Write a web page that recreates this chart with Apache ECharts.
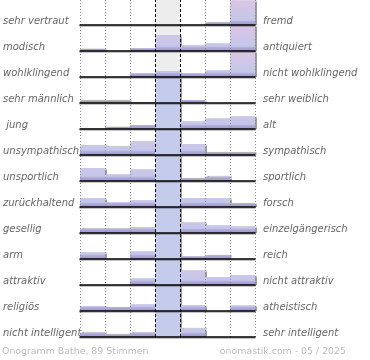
<!DOCTYPE html>
<html>
<head>
<meta charset="utf-8">
<script src="https://cdn.jsdelivr.net/npm/echarts@6/dist/echarts.min.js"></script>
<style>html,body{margin:0;padding:0;background:#fff;}#c{width:370px;height:360px;}</style>
</head>
<body>
<div id="c"></div>
<script>
// ---- data ----
const leftLabels = ["sehr vertraut","modisch","wohlklingend","sehr männlich"," jung","unsympathisch","unsportlich","zurückhaltend","gesellig","arm","attraktiv","religiös","nicht intelligent"];
const rightLabels = ["fremd","antiquiert","nicht wohlklingend","sehr weiblich","alt","sympathisch","sportlich","forsch","einzelgängerisch","reich","nicht attraktiv","atheistisch","sehr intelligent"];
const columns = ["1","2","3","4","5","6","7"];
// bar heights per row (scale: 26 = full row height; larger values are clipped)
const r1  = [0, 0, 0, 0, 0, 2.3, 25.6];
const r2  = [1.7, 0, 2.7, 16, 5.3, 7.7, 25.6];
const r3  = [0, 0, 3.7, 6, 3.7, 6.7, 25.6];
const r4  = [2.3, 2.3, 0.5, 40, 3, 0, 0];
const r5  = [0.3, 1.7, 4, 40, 7.7, 10.7, 12.7];
const r6  = [9.3, 8.3, 13.3, 40, 11, 2.3, 2.3];
const r7  = [13, 6.7, 11.7, 40, 2.3, 4.3, 0];
const r8  = [9, 4.7, 6.7, 40, 9, 9, 4];
const r9  = [4.3, 4.3, 6, 40, 10.7, 7.7, 6.7];
const r10 = [6.7, 0, 7.7, 40, 2.7, 3.3, 0];
const r11 = [0, 0, 6.7, 40, 14.7, 8, 10];
const r12 = [5, 4, 6.7, 40, 6, 0, 5.7];
const r13 = [4.3, 2.3, 4.3, 40, 8.3, 0, 0];
const rows = [r1,r2,r3,r4,r5,r6,r7,r8,r9,r10,r11,r12,r13];
const footerLeft = "Onogramm Bathe, 89 Stimmen";
const footerRight = "onomastik.com - 05 / 2025";

// ---- layout ----
const YMAX = 26;
const LEFT = 80, WIDTH = 175;
const FIRST_BASE = 25, STEP = 26, ROW_H = 26;
const LAST_BASE = FIRST_BASE + STEP * (rows.length - 1);

const chart = echarts.init(document.getElementById('c'), null, {renderer:'canvas'});

const grids = [
  {left: LEFT, width: WIDTH, top: 0, height: LAST_BASE},
  {left: LEFT, width: WIDTH, top: FIRST_BASE - 4 - STEP/2, height: STEP * rows.length}
];
const xAxes = [
  {gridIndex:0, type:'value', min:0, max:7, show:false},
  {gridIndex:1, type:'value', min:0, max:1, show:false}
];
const labelStyle = {fontFamily:'DejaVu Sans', fontStyle:'italic', fontSize:10, color:'#666'};
const yAxes = [
  {gridIndex:0, type:'value', min:0, max:1, show:false},
  {gridIndex:1, type:'category', data:leftLabels, inverse:true, position:'left',
   axisLine:{show:false}, axisTick:{show:false}, splitLine:{show:false},
   axisLabel:Object.assign({align:'left', margin:79, interval:0}, labelStyle)},
  {gridIndex:1, type:'category', data:rightLabels, inverse:true, position:'right',
   axisLine:{show:false}, axisTick:{show:false}, splitLine:{show:false},
   axisLabel:Object.assign({align:'left', margin:8, interval:0}, labelStyle)}
];
const series = [
  {type:'scatter', xAxisIndex:0, yAxisIndex:0, data:[], z:0, silent:true,
   markArea:{silent:true, itemStyle:{color:'#ededed'}, data:[[{xAxis:3},{xAxis:4}]]},
   markLine:{silent:true, symbol:'none', label:{show:false},
     lineStyle:{color:'#8a8a8a', type:[1,2], width:1},
     data:[{xAxis:0},{xAxis:1},{xAxis:2},{xAxis:5},{xAxis:6},{xAxis:7}]}},
  {type:'scatter', xAxisIndex:0, yAxisIndex:0, data:[], z:20, silent:true,
   markLine:{silent:true, symbol:'none', label:{show:false}, z:20,
     lineStyle:{color:'#000', type:[3,2], width:1},
     data:[{xAxis:3},{xAxis:4}]}}
];

rows.forEach((vals, i) => {
  const base = FIRST_BASE + STEP * i;
  const top = base - ROW_H;
  const gi = grids.length;
  grids.push({left: LEFT, width: WIDTH, top: top, height: ROW_H});
  const xi = xAxes.length;
  xAxes.push({gridIndex: gi, type:'category', data: columns, z:10,
    axisLine:{show:true, lineStyle:{color:'#000', width:1.5, shadowColor:'rgba(0,0,0,0.3)', shadowOffsetY:1}},
    axisTick:{show:false}, axisLabel:{show:false}, splitLine:{show:false}});
  const yi = yAxes.length;
  yAxes.push({gridIndex: gi, type:'value', min:0, max:YMAX, show:false});
  const grad = new echarts.graphic.LinearGradient(0, top, 0, base, [
    {offset:0, color:'#dcc4e4'},
    {offset:0.45, color:'#cfc6e8'},
    {offset:0.82, color:'#c3c7e9'},
    {offset:0.87, color:'#b1acdb'},
    {offset:1, color:'#9d95c9'}
  ], true);
  series.push({
    type:'bar', xAxisIndex: xi, yAxisIndex: yi, z:3, silent:true,
    barCategoryGap:'0%', barWidth:'100%', clip:true, animation:false,
    data: vals.map(v => v > YMAX ? {value:v, itemStyle:{color:'#c5cbea'}} : v),
    itemStyle:{color: grad, shadowColor:'rgba(0,0,0,0.38)', shadowBlur:1, shadowOffsetX:1.5, shadowOffsetY:-0.5}
  });
});

chart.setOption({
  animation:false,
  backgroundColor:'#fff',
  title:[
    {text: footerLeft, left:2, top:347, padding:0,
     textStyle:{fontFamily:'DejaVu Sans', fontSize:9.4, fontWeight:'normal', color:'#bbb'}},
    {text: footerRight, right:24, top:347, padding:0,
     textStyle:{fontFamily:'DejaVu Sans', fontSize:9.4, fontWeight:'normal', color:'#bbb'}}
  ],
  grid: grids, xAxis: xAxes, yAxis: yAxes, series: series
});
</script>
</body>
</html>
